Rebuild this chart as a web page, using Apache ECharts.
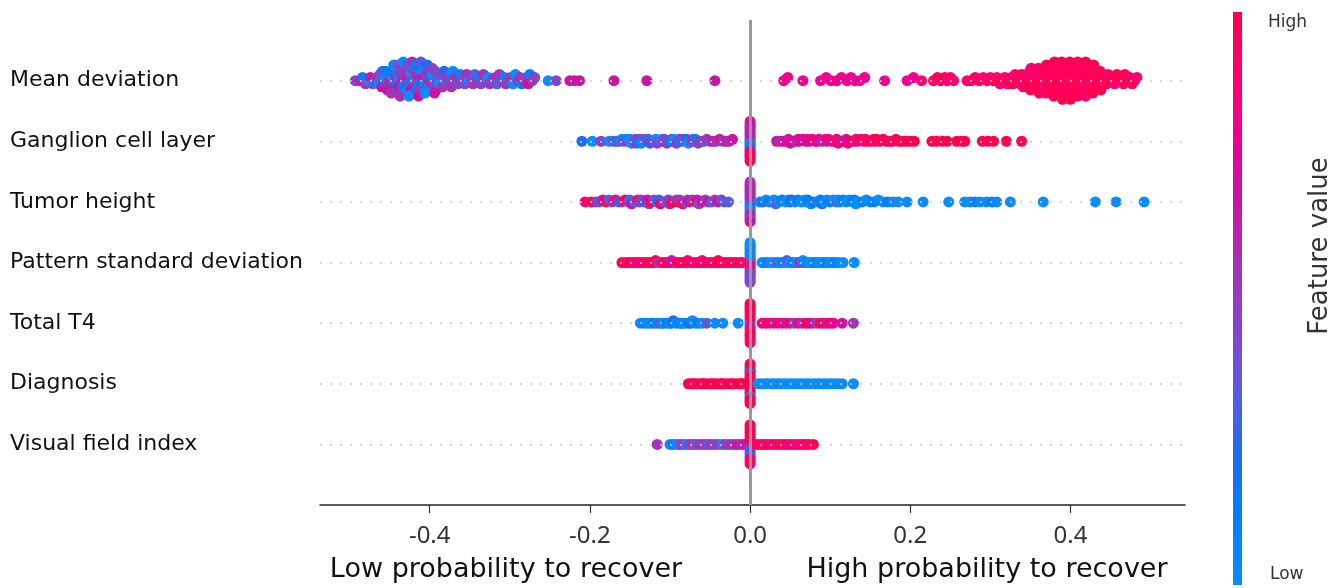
<!DOCTYPE html>
<html><head><meta charset="utf-8">
<script src="https://cdn.jsdelivr.net/npm/echarts@6/dist/echarts.min.js"></script>
<style>html,body{margin:0;padding:0;background:#fff}#c{width:1344px;height:588px}</style>
</head><body><div id="c"></div>
<script>
// ---- data ----
const features = ["Mean deviation","Ganglion cell layer","Tumor height","Pattern standard deviation","Total T4","Diagnosis","Visual field index"];
const xTicks = [-0.4,-0.2,0,0.2,0.4];
const xSideLabels = ["Low probability to recover","High probability to recover"];
const colorbarLabels = ["High","Low"];
const colorbarTitle = "Feature value";
// feature-value level 0 (low) .. 9 (high)
const palette = ['#0a8cff','#0080f8','#1f6cf0','#5a5ce0','#8446c8','#a434b4','#c816a2','#ee0092','#ff006c','#ff0052'];

// [SHAP value, feature level]
const mdPts = [
[-0.493,4],[-0.487,6],[-0.484,1],[-0.480,5],[-0.476,0],[-0.474,6],[-0.471,3],[-0.468,1],[-0.466,5],[-0.463,0],
[-0.462,4],[-0.460,6],[-0.458,2],[-0.456,0],[-0.454,5],[-0.452,3],[-0.451,1],
[-0.449,6],[-0.447,0],[-0.446,4],[-0.444,5],[-0.443,2],[-0.442,1],[-0.441,6],[-0.440,4],
[-0.438,3],[-0.437,0],[-0.436,6],[-0.435,5],[-0.434,1],[-0.433,4],[-0.432,2],[-0.431,5],[-0.430,0],
[-0.429,4],[-0.428,6],[-0.427,1],[-0.426,5],[-0.425,3],[-0.424,0],[-0.423,6],[-0.422,4],[-0.421,2],
[-0.419,5],[-0.418,0],[-0.417,4],[-0.416,6],[-0.415,1],[-0.414,3],[-0.413,5],[-0.412,0],[-0.411,4],[-0.410,2],
[-0.408,6],[-0.407,1],[-0.405,4],[-0.404,3],[-0.403,5],[-0.402,0],[-0.401,4],[-0.400,6],[-0.399,2],
[-0.398,5],[-0.396,0],[-0.395,4],[-0.393,3],[-0.392,5],[-0.390,1],[-0.389,4],[-0.388,0],
[-0.386,4],[-0.384,5],[-0.382,2],[-0.380,0],[-0.378,5],[-0.377,4],
[-0.375,3],[-0.373,5],[-0.371,0],[-0.369,4],[-0.367,5],
[-0.365,4],[-0.362,1],[-0.360,5],[-0.358,3],[-0.356,4],
[-0.354,5],[-0.351,0],[-0.348,4],[-0.346,5],
[-0.344,3],[-0.341,5],[-0.338,1],[-0.336,4],
[-0.333,5],[-0.330,4],[-0.327,0],[-0.325,5],
[-0.322,4],[-0.318,5],[-0.316,3],
[-0.313,5],[-0.310,4],[-0.307,1],[-0.305,5],
[-0.302,4],[-0.299,5],[-0.296,0],
[-0.293,0],[-0.290,4],[-0.287,5],[-0.285,1],
[-0.282,5],[-0.279,4],[-0.277,6],
[-0.275,1],[-0.272,5],[-0.269,4],
[-0.459,3],[-0.455,1],[-0.453,6],[-0.448,5],[-0.445,0],[-0.439,4],[-0.437,5],[-0.433,0],[-0.428,3],
[-0.426,0],[-0.422,5],[-0.417,1],[-0.414,6],[-0.411,3],[-0.406,0],[-0.403,2],[-0.397,4],[-0.394,6],
[-0.252,0],[-0.242,4],[-0.225,6],[-0.219,6],[-0.213,6],[-0.170,6],[-0.129,6],[-0.044,6],
[0.042,7],[0.047,7],[0.066,7],[0.088,7],[0.095,7],[0.101,7],[0.108,7],[0.114,7],[0.121,7],[0.126,7],[0.131,7],[0.137,7],[0.143,7],
[0.168,7],[0.196,7],[0.204,7],[0.214,8],[0.229,8],[0.234,9],[0.238,8],[0.243,9],[0.246,8],[0.250,8],[0.254,8],
[0.271,8],[0.276,8],[0.281,8],[0.286,9],[0.291,8],[0.296,8],[0.300,8],[0.304,9],[0.308,8],
[0.312,8],[0.315,9],[0.318,8],[0.321,8],[0.324,9],[0.326,8],[0.328,9],
[0.331,8],[0.333,9],[0.335,8],[0.337,8],[0.339,9],
[0.341,8],[0.342,9],[0.344,8],[0.345,9],[0.347,8],[0.348,9],[0.349,8],
[0.350,9],[0.351,8],[0.352,9],[0.353,8],[0.354,9],[0.355,8],[0.356,9],[0.357,8],[0.359,9],
[0.360,8],[0.361,9],[0.362,9],[0.363,8],[0.364,9],[0.365,8],[0.366,9],[0.367,9],[0.368,8],[0.369,9],[0.369,8],
[0.370,9],[0.371,8],[0.372,9],[0.373,9],[0.374,8],[0.375,9],[0.376,9],[0.377,8],[0.377,9],[0.378,9],[0.379,8],[0.379,9],
[0.380,9],[0.381,8],[0.381,9],[0.382,9],[0.383,8],[0.384,9],[0.385,9],[0.386,8],[0.386,9],[0.387,9],[0.388,8],[0.389,9],[0.389,9],
[0.390,9],[0.391,8],[0.391,9],[0.392,9],[0.393,8],[0.394,9],[0.395,9],[0.396,8],[0.396,9],[0.397,9],[0.398,8],[0.399,9],[0.399,9],
[0.400,9],[0.401,8],[0.402,9],[0.402,9],[0.403,8],[0.404,9],[0.405,9],[0.406,8],[0.406,9],[0.407,9],[0.408,8],[0.409,9],[0.409,9],
[0.410,9],[0.411,8],[0.412,9],[0.413,9],[0.414,8],[0.415,9],[0.416,9],[0.417,8],[0.418,9],[0.418,9],[0.419,8],[0.419,9],
[0.420,9],[0.421,8],[0.422,9],[0.423,9],[0.424,8],[0.425,9],[0.426,9],[0.427,8],[0.428,9],[0.429,9],
[0.431,9],[0.432,8],[0.434,9],[0.435,9],[0.436,8],[0.437,9],[0.438,9],
[0.441,8],[0.443,9],[0.445,9],[0.447,8],[0.449,9],
[0.452,9],[0.455,8],[0.458,9],[0.460,8],
[0.463,9],[0.466,8],[0.468,9],
[0.471,9],[0.474,8],[0.477,9],
[0.480,9],[0.483,8]
];

const gcPts = [
[-0.210,2],[-0.197,0],[-0.186,4],[-0.176,0],[-0.170,4],[-0.166,1],[-0.163,3],[-0.160,0],[-0.157,5],[-0.154,1],
[-0.151,4],[-0.150,0],[-0.148,0],[-0.145,3],[-0.143,4],[-0.142,5],[-0.140,1],[-0.137,4],[-0.136,1],[-0.134,0],
[-0.131,3],[-0.128,5],[-0.127,3],[-0.125,2],[-0.122,4],[-0.119,1],[-0.118,0],[-0.116,5],[-0.113,3],[-0.110,0],
[-0.108,5],[-0.107,4],[-0.104,5],[-0.101,2],[-0.098,4],[-0.097,1],[-0.095,0],[-0.092,5],[-0.089,3],[-0.088,4],
[-0.086,1],[-0.083,4],[-0.080,5],[-0.079,2],[-0.077,0],[-0.074,3],[-0.071,5],[-0.070,4],[-0.068,1],[-0.065,4],
[-0.062,5],[-0.058,3],[-0.054,5],[-0.050,4],[-0.046,6],[-0.042,5],[-0.038,6],[-0.034,5],[-0.030,6],[-0.026,5],[-0.022,6],
[0,0],[0,3],[0,1],[0,5],[0,0],[0,4],[0,2],[0,6],[0,1],[0,5],[0,7],[0,6],[0,8],[0,5],[0,7],[0,6],[0,9],[0,5],[0,8],[0,6],[0,9],
[0.033,6],[0.038,5],[0.042,6],[0.046,7],[0.048,6],[0.050,6],[0.054,7],[0.058,5],[0.060,7],[0.062,6],[0.066,7],[0.070,6],
[0.072,6],[0.074,7],[0.078,8],[0.082,6],[0.084,7],[0.086,7],[0.090,5],[0.094,7],[0.096,6],[0.098,8],[0.102,6],[0.106,7],
[0.108,8],[0.110,8],[0.114,6],[0.118,8],[0.120,6],[0.122,7],[0.126,9],[0.130,6],[0.132,7],[0.134,8],[0.138,9],[0.142,7],
[0.144,8],[0.146,8],[0.150,9],[0.154,8],[0.156,9],[0.158,9],[0.162,8],[0.166,9],[0.170,9],[0.174,8],[0.178,9],[0.182,9],
[0.186,8],[0.190,9],[0.195,9],[0.200,9],[0.205,9],[0.227,9],[0.233,9],[0.240,9],[0.246,9],[0.258,9],[0.264,9],[0.268,9],
[0.290,9],[0.297,9],[0.304,9],[0.320,9],[0.339,9]
];

const thPts = [
[-0.206,8],[-0.198,9],[-0.192,5],[-0.188,3],[-0.184,6],[-0.180,9],[-0.176,3],[-0.172,5],[-0.168,8],[-0.164,2],
[-0.160,5],[-0.156,9],[-0.152,4],[-0.150,3],[-0.148,6],[-0.144,3],[-0.140,9],[-0.138,4],[-0.136,5],[-0.132,2],
[-0.128,6],[-0.126,5],[-0.124,8],[-0.120,4],[-0.116,3],[-0.114,2],[-0.112,9],[-0.108,5],[-0.104,3],[-0.102,4],
[-0.100,6],[-0.096,9],[-0.092,4],[-0.090,9],[-0.088,5],[-0.084,8],[-0.080,3],[-0.078,5],[-0.076,6],[-0.072,5],
[-0.068,9],[-0.066,6],[-0.064,4],[-0.060,6],[-0.056,5],[-0.052,6],[-0.048,3],[-0.044,5],[-0.040,6],[-0.036,4],[-0.032,3],[-0.027,3],
[0,0],[0,3],[0,1],[0,4],[0,3],[0,5],[0,2],[0,6],[0,0],[0,5],[0,3],[0,6],[0,4],[0,5],[0,6],[0,5],[0,4],[0,6],[0,5],[0,5],[0,6],
[0.012,0],[0.016,2],[0.020,0],[0.024,1],[0.028,0],[0.030,0],[0.032,3],[0.036,0],[0.040,1],[0.044,0],[0.048,0],[0.050,1],
[0.052,2],[0.056,0],[0.060,1],[0.064,0],[0.068,0],[0.070,0],[0.072,1],[0.076,0],[0.080,2],[0.084,0],[0.088,1],[0.090,2],
[0.092,0],[0.096,0],[0.100,1],[0.104,0],[0.108,3],[0.110,0],[0.112,0],[0.116,1],[0.120,0],[0.124,0],[0.128,1],[0.130,1],
[0.132,0],[0.136,0],[0.140,1],[0.145,0],[0.150,0],[0.155,1],[0.160,0],[0.166,0],[0.172,1],[0.178,0],[0.185,0],[0.196,0],
[0.216,0],[0.248,0],[0.268,0],[0.275,0],[0.281,1],[0.287,0],[0.295,0],[0.302,1],[0.308,0],[0.325,0],[0.366,0],[0.431,0],[0.457,0],[0.492,0]
];

const psdPts = [
[-0.160,9],[-0.155,8],[-0.150,9],[-0.146,8],[-0.142,9],[-0.140,8],[-0.138,7],[-0.134,9],[-0.130,8],[-0.126,9],
[-0.122,8],[-0.120,9],[-0.118,9],[-0.114,5],[-0.110,8],[-0.106,9],[-0.102,8],[-0.100,7],[-0.098,6],[-0.094,7],
[-0.090,9],[-0.086,8],[-0.082,9],[-0.080,9],[-0.078,8],[-0.074,9],[-0.070,7],[-0.066,8],[-0.062,9],[-0.060,8],
[-0.058,8],[-0.054,9],[-0.050,7],[-0.046,9],[-0.042,8],[-0.040,9],[-0.038,9],[-0.034,8],[-0.030,9],[-0.026,8],
[-0.022,9],[-0.018,8],[-0.013,9],[-0.010,8],
[0,8],[0,6],[0,8],[0,5],[0,9],[0,4],[0,5],[0,0],[0,8],[0,1],[0,4],[0,0],[0,5],[0,0],[0,4],[0,1],[0,4],[0,0],[0,3],[0,0],[0,4],
[0.015,0],[0.020,1],[0.025,0],[0.030,0],[0.034,3],[0.038,0],[0.042,1],[0.045,0],[0.046,3],[0.050,0],[0.054,1],[0.058,0],
[0.062,5],[0.065,3],[0.066,0],[0.070,1],[0.074,0],[0.078,0],[0.082,1],[0.085,0],[0.086,0],[0.090,0],[0.094,1],[0.098,0],
[0.102,0],[0.106,1],[0.110,0],[0.116,0],[0.130,0]
];

const t4Pts = [
[-0.137,0],[-0.132,1],[-0.128,0],[-0.124,0],[-0.120,1],[-0.116,0],[-0.112,4],[-0.110,0],[-0.108,0],[-0.104,1],
[-0.100,0],[-0.098,1],[-0.096,2],[-0.092,0],[-0.088,1],[-0.086,0],[-0.084,0],[-0.080,0],[-0.076,1],[-0.074,2],
[-0.072,0],[-0.068,0],[-0.064,1],[-0.060,0],[-0.054,3],[-0.044,0],[-0.034,0],[-0.015,0],
[0,0],[0,1],[0,0],[0,7],[0,8],[0,8],[0,6],[0,9],[0,8],[0,9],[0,9],[0,9],[0,9],[0,8],[0,9],[0,9],[0,8],
[0.015,8],[0.020,7],[0.025,8],[0.030,6],[0.035,8],[0.040,7],[0.045,6],[0.050,8],[0.055,4],[0.060,7],[0.065,5],
[0.070,9],[0.074,8],[0.078,6],[0.083,5],[0.088,8],[0.092,9],[0.096,6],[0.100,8],[0.104,7],[0.115,6],[0.129,5]
];

const dxPts = [
[-0.077,9],[-0.073,9],[-0.071,9],[-0.069,9],[-0.065,9],[-0.061,9],[-0.059,9],[-0.057,9],[-0.053,9],[-0.049,9],
[-0.047,9],[-0.045,9],[-0.041,9],[-0.037,9],[-0.035,9],[-0.033,9],[-0.029,9],[-0.025,9],[-0.023,9],[-0.021,9],
[-0.017,9],[-0.013,9],[-0.011,9],[-0.009,9],[-0.005,9],
[0,9],[0,9],[0,9],[0,9],[0,9],[0,9],[0,9],[0,9],[0,9],[0,9],[0,9],[0,9],[0,0],[0,9],[0,9],[0,1],[0,9],[0,9],[0,9],
[0.010,0],[0.014,0],[0.018,0],[0.022,0],[0.026,0],[0.030,0],[0.034,0],[0.038,0],[0.042,0],[0.046,0],[0.050,0],
[0.054,0],[0.058,0],[0.062,0],[0.066,0],[0.070,0],[0.074,0],[0.078,0],[0.082,0],[0.086,0],[0.090,0],[0.094,0],
[0.098,0],[0.102,0],[0.106,0],[0.110,0],[0.115,0],[0.129,0]
];

const vfPts = [
[-0.116,5],[-0.100,0],[-0.096,1],[-0.092,0],[-0.088,3],[-0.084,5],[-0.080,0],[-0.076,4],[-0.072,5],[-0.068,3],
[-0.064,5],[-0.060,4],[-0.056,5],[-0.052,3],[-0.048,5],[-0.044,4],[-0.040,5],[-0.035,0],[-0.031,5],[-0.027,4],
[-0.023,5],[-0.019,5],[-0.015,6],[-0.011,5],[-0.007,6],
[0,5],[0,9],[0,5],[0,9],[0,4],[0,9],[0,3],[0,9],[0,2],[0,9],[0,3],[0,9],[0,8],[0,9],[0,8],[0,9],[0,8],
[0.006,9],[0.010,8],[0.014,9],[0.018,8],[0.022,9],[0.026,7],[0.030,9],[0.034,8],[0.038,9],[0.042,8],[0.046,9],
[0.050,7],[0.054,9],[0.058,8],[0.062,7],[0.066,8],[0.070,9],[0.074,8],[0.079,9]
];

const rows = [mdPts, gcPts, thPts, psdPts, t4Pts, dxPts, vfPts];

// beeswarm offsets (same binning approach as SHAP's summary plot)
function swarm(xs) {
  const n = xs.length, nb = 100;
  const mn = Math.min(...xs), mx = Math.max(...xs);
  const q = xs.map(v => Math.round(nb * (v - mn) / (mx - mn + 1e-8)));
  const idx = xs.map((_, i) => i).sort((a, b) => (q[a] - q[b]) || (a - b));
  const ys = new Array(n).fill(0);
  let layer = 0, last = -1;
  for (const i of idx) {
    if (q[i] !== last) layer = 0;
    ys[i] = Math.ceil(layer / 2) * ((layer % 2) * 2 - 1);
    layer++; last = q[i];
  }
  const m = Math.max(...ys.map(y => y + 1));
  return ys.map(y => y * 0.9 * 0.4 / m);
}

const n = features.length;
const points = [];
rows.forEach((pts, i) => {
  const pos = n - 1 - i;
  const off = swarm(pts.map(p => p[0]));
  pts.forEach((p, j) => points.push([p[0], pos + off[j], p[1]]));
});

const FONT = 'DejaVu Sans';
const TICKFONT = 'Noto Sans';
const chart = echarts.init(document.getElementById('c'), null, {renderer: 'canvas'});
const rowIdx = features.map((_, i) => i);
chart.setOption({
  animation: false,
  backgroundColor: '#fff',
  grid: {left: 320, right: 159, top: 20, bottom: 83},
  xAxis: {
    type: 'value', min: -0.537, max: 0.543,
    splitLine: {show: false},
    axisLine: {show: true, onZero: false, lineStyle: {color: '#222', width: 1.5}},
    axisTick: {show: true, customValues: xTicks, length: 8, lineStyle: {color: '#333', width: 1.2}},
    axisLabel: {customValues: xTicks, formatter: v => Number(v).toFixed(1), fontSize: 24, color: '#333', margin: 19, fontFamily: TICKFONT}
  },
  yAxis: {
    type: 'value', min: -1, max: n,
    splitLine: {show: false}, axisLine: {show: false}, axisTick: {show: false},
    axisLabel: {customValues: rowIdx, formatter: v => features[n - 1 - Math.round(v)], align: 'left', margin: 310,
      fontSize: 22, color: '#111', fontFamily: FONT, padding: [0, 0, 6, 0]}
  },
  visualMap: {show: false, type: 'continuous', dimension: 2, min: 0, max: 9, seriesIndex: 1, inRange: {color: palette}},
  series: [
    {type: 'line', data: [], z: 1, silent: true,
     markLine: {silent: true, symbol: ['none', 'none'], label: {show: false}, animation: false,
       data: rowIdx.map(i => ({yAxis: i, lineStyle: {color: '#cccccc', width: 1.5, type: [2, 8]}}))
         .concat([{xAxis: 0, lineStyle: {color: '#999999', width: 3, type: 'solid'}}])}},
    {type: 'scatter', data: points, symbol: 'circle', symbolSize: 11, z: 3, itemStyle: {opacity: 1}}
  ],
  graphic: [
    {type: 'rect', shape: {x: 1233, y: 12, width: 9, height: 573}, style: {fill: new echarts.graphic.LinearGradient(0, 1, 0, 0,
      palette.map((c, i) => ({offset: i / (palette.length - 1), color: c})))}},
    {type: 'text', x: 1268, y: 23, style: {text: colorbarLabels[0], fontSize: 17, fill: '#333', fontFamily: FONT, textVerticalAlign: 'middle'}},
    {type: 'text', x: 1270, y: 575, style: {text: colorbarLabels[1], fontSize: 17, fill: '#333', fontFamily: FONT, textVerticalAlign: 'middle'}},
    {type: 'text', x: 1320, y: 246, rotation: Math.PI / 2, style: {text: colorbarTitle, fontSize: 26, fill: '#333', fontFamily: FONT, textAlign: 'center', textVerticalAlign: 'middle'}},
    {type: 'text', x: 506, y: 570, style: {text: xSideLabels[0], fontSize: 27, fill: '#111', fontFamily: FONT, textAlign: 'center', textVerticalAlign: 'middle'}},
    {type: 'text', x: 987, y: 570, style: {text: xSideLabels[1], fontSize: 27, fill: '#111', fontFamily: FONT, textAlign: 'center', textVerticalAlign: 'middle'}}
  ]
});
</script></body></html>
